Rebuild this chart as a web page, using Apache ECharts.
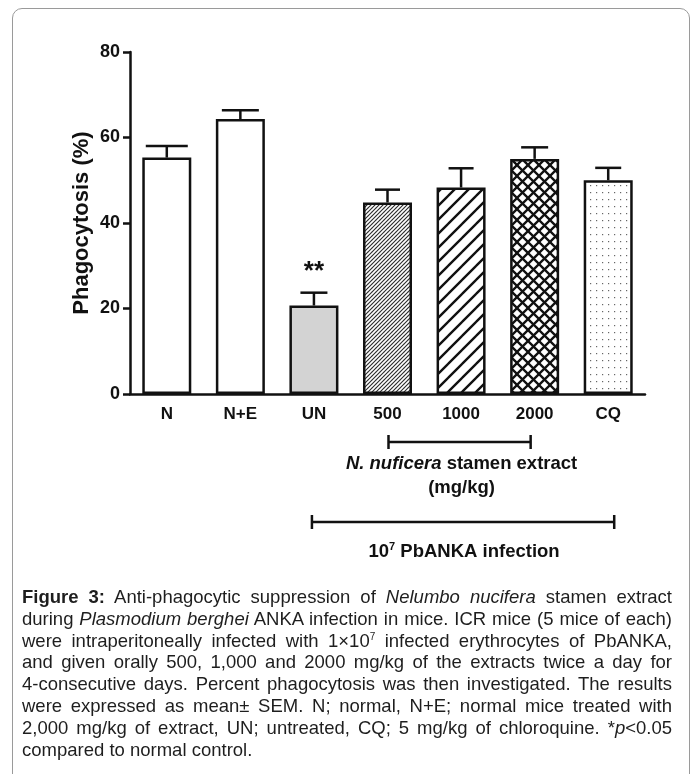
<!DOCTYPE html>
<html>
<head>
<meta charset="utf-8">
<script src="https://cdn.jsdelivr.net/npm/echarts@6/dist/echarts.min.js"></script>
<style>
  html, body { margin: 0; padding: 0; background: #fff; }
  #wrap { position: relative; width: 695px; height: 774px; overflow: hidden; }
  #chart { position: absolute; left: 0; top: 0; width: 695px; height: 774px; }
  #frame { position: absolute; left: 12px; top: 8px; width: 676px; height: 800px;
           border: 1px solid #9a9a9a; border-radius: 10px; pointer-events: none; }
  #caption { position: absolute; left: 22px; top: 586px; width: 650px;
             font-family: "Liberation Sans", Arial, sans-serif; font-size: 18.5px; color: #1e1e1e; }
  .ln { height: 21.8px; line-height: 21.8px; white-space: nowrap; }
</style>
</head>
<body>
<div id="wrap">
  <div id="chart"></div>
  <div id="frame"></div>
  <div id="caption">
    <div class="ln"><b>Figure 3:</b> Anti-phagocytic suppression of <i>Nelumbo nucifera</i> stamen extract</div>
    <div class="ln">during <i>Plasmodium berghei</i> ANKA infection in mice. ICR mice (5 mice of each)</div>
    <div class="ln">were intraperitoneally infected with 1×10<sup style="font-size:10px;line-height:0">7</sup> infected erythrocytes of PbANKA,</div>
    <div class="ln">and given orally 500, 1,000 and 2000 mg/kg of the extracts twice a day for</div>
    <div class="ln">4-consecutive days. Percent phagocytosis was then investigated. The results</div>
    <div class="ln">were expressed as mean± SEM. N; normal, N+E; normal mice treated with</div>
    <div class="ln">2,000 mg/kg of extract, UN; untreated, CQ; 5 mg/kg of chloroquine. *<i>p</i>&lt;0.05</div>
    <div class="ln last">compared to normal control.</div>
  </div>
</div>
<script>
// ---- data ----
const categories = ['N', 'N+E', 'UN', '500', '1000', '2000', 'CQ'];
const meanValues = [55.3, 64.3, 20.7, 44.8, 48.3, 55.0, 50.0];
const semValues  = [2.7, 2.1, 3.0, 3.0, 4.5, 2.7, 2.9];
const yTicks = [0, 20, 40, 60, 80];
const significance = ['', '', '**', '', '', '', ''];

// ---- styles ----
const FONT = '"Liberation Sans", Arial, sans-serif';
const INK = '#111';
const capPx = [42, 37, 27, 25, 25, 27, 26];

function makeTile(w, h, draw) {
  const c = document.createElement('canvas');
  c.width = w; c.height = h;
  const g = c.getContext('2d');
  g.fillStyle = '#fff'; g.fillRect(0, 0, w, h);
  draw(g, w, h);
  return c;
}
function diag(g, t, lw, color, dir) {
  g.strokeStyle = color; g.lineWidth = lw; g.lineCap = 'square';
  g.beginPath();
  for (let k = -1; k <= 1; k++) {
    if (dir > 0) { g.moveTo(k * t, t); g.lineTo(k * t + t, 0); }
    else { g.moveTo(k * t, 0); g.lineTo(k * t + t, t); }
  }
  g.stroke();
}
const patFine = makeTile(4, 4, (g, w) => diag(g, w, 1.1, '#2a2a2a', 1));
const patWide = makeTile(14, 14, (g, w) => diag(g, w, 2.4, '#111', 1));
const patCross = makeTile(11, 11, (g, w) => { diag(g, w, 2.3, '#111', 1); diag(g, w, 2.3, '#111', -1); });
const patDots = makeTile(6, 7, (g) => { g.fillStyle = '#666'; g.fillRect(2, 3, 1.2, 1.2); });

const fills = ['#ffffff', '#ffffff', '#d3d3d3',
  { image: patFine, repeat: 'repeat' },
  { image: patWide, repeat: 'repeat' },
  { image: patCross, repeat: 'repeat' },
  { image: patDots, repeat: 'repeat' }];

const barData = meanValues.map((v, i) => ({
  value: v,
  itemStyle: { color: fills[i], borderColor: INK, borderWidth: 2.5 }
}));
const errData = meanValues.map((v, i) => [i, v, v + semValues[i]]);

const chart = echarts.init(document.getElementById('chart'), null, { renderer: 'canvas' });
const option = {
  animation: false,
  backgroundColor: '#fff',
  grid: { left: 130, right: 50, top: 52, bottom: 380, containLabel: false },
  xAxis: {
    type: 'category', data: categories,
    axisLine: { lineStyle: { color: INK, width: 2.5 } },
    axisTick: { alignWithLabel: true, length: 7, lineStyle: { color: INK, width: 2.5 } },
    axisLabel: { color: INK, fontFamily: FONT, fontWeight: 'bold', fontSize: 17, margin: 12 },
    splitLine: { show: false }
  },
  yAxis: {
    type: 'value', min: yTicks[0], max: yTicks[yTicks.length - 1], interval: yTicks[1] - yTicks[0],
    name: 'Phagocytosis (%)', nameLocation: 'middle', nameGap: 37, nameMoveOverlap: false,
    nameTextStyle: { color: INK, fontFamily: FONT, fontWeight: 'bold', fontSize: 22 },
    axisLine: { show: true, lineStyle: { color: INK, width: 2.5 } },
    axisTick: { show: true, length: 7, lineStyle: { color: INK, width: 2.5 } },
    axisLabel: { color: INK, fontFamily: FONT, fontWeight: 'bold', fontSize: 18, margin: 10 },
    splitLine: { show: false }
  },
  series: [
    { type: 'bar', data: barData, barWidth: 49, z: 2 },
    {
      type: 'custom', data: errData, z: 3,
      renderItem: function (params, api) {
        const i = api.value(0);
        const base = api.coord([i, api.value(1)]);
        const top = api.coord([i, api.value(2)]);
        const hw = capPx[params.dataIndex] / 2;
        const st = { stroke: INK, lineWidth: 2.5, fill: null };
        const children = [
          { type: 'line', shape: { x1: base[0], y1: base[1], x2: top[0], y2: top[1] }, style: st },
          { type: 'line', shape: { x1: top[0] - hw, y1: top[1], x2: top[0] + hw, y2: top[1] }, style: st }
        ];
        const sig = significance[params.dataIndex];
        if (sig) {
          children.push({ type: 'text', x: top[0], y: top[1] - 8,
            style: { text: sig, fill: INK, font: 'bold 26px ' + FONT, align: 'center', verticalAlign: 'bottom' } });
        }
        return { type: 'group', children: children };
      }
    }
  ]
};
chart.setOption(option);

// ---- brackets and group labels (positions derived from the category axis) ----
function cx(cat) { return chart.convertToPixel({ xAxisIndex: 0 }, cat); }
const y0 = chart.convertToPixel({ yAxisIndex: 0 }, 0);
const bracketStyle = { stroke: INK, lineWidth: 2.5 };
function bracket(xa, xb, y) {
  return [
    { type: 'line', shape: { x1: xa, y1: y, x2: xb, y2: y }, style: bracketStyle },
    { type: 'line', shape: { x1: xa, y1: y - 7, x2: xa, y2: y + 7 }, style: bracketStyle },
    { type: 'line', shape: { x1: xb, y1: y - 7, x2: xb, y2: y + 7 }, style: bracketStyle }
  ];
}
const b1a = cx('500') + 1, b1b = cx('2000') - 4;
const b2a = cx('UN') - 2, b2b = cx('CQ') + 6;
const yb1 = y0 + 48, yb2 = y0 + 128;
const graphics = [].concat(
  bracket(b1a, b1b, yb1),
  bracket(b2a, b2b, yb2),
  [
    { type: 'text', x: (b1a + b1b) / 2 + 2, y: yb1 + 22,
      style: { text: '{i|N. nuficera} stamen extract', align: 'center', verticalAlign: 'middle', fill: INK,
        font: 'bold 18.5px ' + FONT,
        rich: { i: { fontStyle: 'italic', fontWeight: 'bold', fontSize: 18.5, fontFamily: FONT, fill: INK } } } },
    { type: 'text', x: (b1a + b1b) / 2 + 2, y: yb1 + 46,
      style: { text: '(mg/kg)', align: 'center', verticalAlign: 'middle', fill: INK, font: 'bold 18.5px ' + FONT } },
    { type: 'text', x: (b2a + b2b) / 2 + 1, y: yb2 + 30,
      style: { text: '10{s|7} PbANKA infection', align: 'center', verticalAlign: 'middle', fill: INK,
        font: 'bold 18.5px ' + FONT, lineHeight: 22,
        rich: { s: { fontSize: 11, fontWeight: 'bold', fontFamily: FONT, verticalAlign: 'top', lineHeight: 12, fill: INK } } } }
  ]
);
chart.setOption({ graphic: graphics.map(g => Object.assign({ silent: true }, g)) });

// ---- justify caption lines ----
document.querySelectorAll('#caption .ln').forEach(function (el) {
  if (el.classList.contains('last')) return;
  const span = document.createElement('span');
  while (el.firstChild) span.appendChild(el.firstChild);
  el.appendChild(span);
  const w = span.getBoundingClientRect().width;
  const spaces = (span.textContent.match(/ /g) || []).length;
  if (spaces > 0) el.style.wordSpacing = ((650 - w) / spaces) + 'px';
});
</script>
</body>
</html>
